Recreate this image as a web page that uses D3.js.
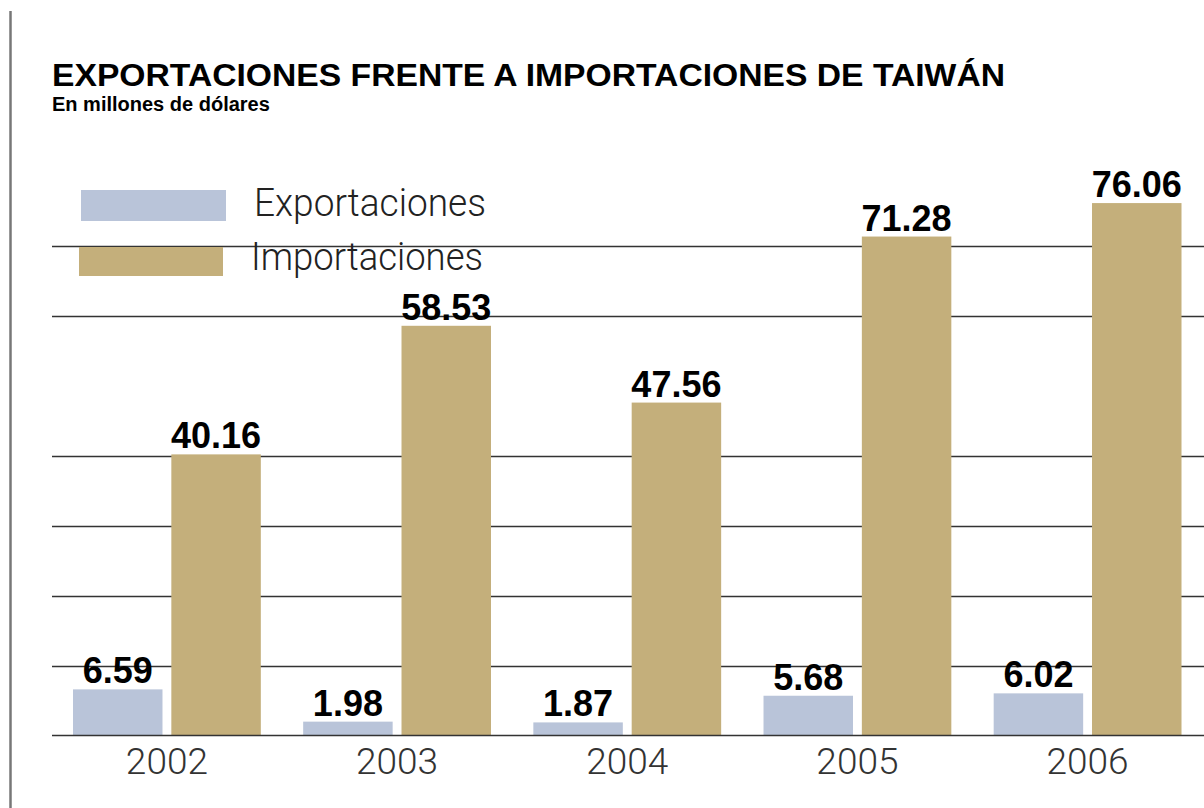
<!DOCTYPE html>
<html lang="es">
<head>
    <meta charset="UTF-8">
    <title>Exportaciones frente a importaciones de Taiwán</title>
    <style>
        html, body { margin: 0; padding: 0; background: #fff; }
        svg { display: block; }
    </style>
</head>
<body>
    <svg id="chart"></svg>
<script src="https://d3js.org/d3.v7.min.js"></script>
<script>
    const years = ["2002", "2003", "2004", "2005", "2006"];
    const series = ["Exportaciones", "Importaciones"];
    const exportaciones = [6.59, 1.98, 1.87, 5.68, 6.02];
    const importaciones = [40.16, 58.53, 47.56, 71.28, 76.06];
    const gridValues = [10, 20, 30, 40, 60, 70];
    const colors = ["#b9c4d9", "#c4af7b"];

    const width = 1204;
    const height = 808;

    const svg = d3.select("#chart")
        .attr("width", width)
        .attr("height", height);

    // left rule
    svg.append("line")
        .attr("x1", 10.5).attr("x2", 10.5)
        .attr("y1", 11).attr("y2", height)
        .attr("stroke", "#777")
        .attr("stroke-width", 2.5);

    // title
    svg.append("text")
        .attr("x", 52)
        .attr("y", 86)
        .attr("font-family", "Liberation Sans, Arial, sans-serif")
        .attr("font-weight", "bold")
        .attr("font-size", 32)
        .attr("textLength", 953)
        .attr("lengthAdjust", "spacingAndGlyphs")
        .attr("fill", "#000")
        .text("EXPORTACIONES FRENTE A IMPORTACIONES DE TAIWÁN");

    svg.append("text")
        .attr("x", 52)
        .attr("y", 111)
        .attr("font-family", "Liberation Sans, Arial, sans-serif")
        .attr("font-weight", "bold")
        .attr("font-size", 20)
        .attr("fill", "#000")
        .text("En millones de dólares");

    const y = d3.scaleLinear()
        .domain([0, 80])
        .range([735.5, 175.5]);

    const x0 = d3.scaleBand()
        .domain(years)
        .range([73, 1181.5])
        .paddingInner(0.184)
        .paddingOuter(0);

    const x1 = d3.scaleBand()
        .domain(series)
        .range([0, x0.bandwidth()])
        .paddingInner(0.09)
        .paddingOuter(0);

    // gridlines
    svg.append("g")
        .selectAll("line")
        .data(gridValues)
        .join("line")
        .attr("x1", 52)
        .attr("x2", width)
        .attr("y1", d => Math.round(y(d)) + 0.5)
        .attr("y2", d => Math.round(y(d)) + 0.5)
        .attr("stroke", "#333")
        .attr("stroke-width", 1.6);

    const data = years.map((yr, i) => ({
        year: yr,
        values: [
            { key: series[0], value: exportaciones[i] },
            { key: series[1], value: importaciones[i] }
        ]
    }));

    const groups = svg.append("g")
        .selectAll("g")
        .data(data)
        .join("g")
        .attr("transform", d => `translate(${x0(d.year)},0)`);

    groups.selectAll("rect")
        .data(d => d.values)
        .join("rect")
        .attr("x", d => x1(d.key))
        .attr("y", d => y(d.value))
        .attr("width", x1.bandwidth())
        .attr("height", d => y(0) - y(d.value))
        .attr("fill", (d, i) => colors[i]);

    groups.selectAll("text.val")
        .data(d => d.values)
        .join("text")
        .attr("class", "val")
        .attr("x", d => x1(d.key) + x1.bandwidth() / 2)
        .attr("y", d => y(d.value) - 6)
        .attr("text-anchor", "middle")
        .attr("font-family", "Liberation Sans, Arial, sans-serif")
        .attr("font-weight", "bold")
        .attr("font-size", 36)
        .attr("fill", "#000")
        .text(d => d.value.toFixed(2));

    // baseline
    svg.append("line")
        .attr("x1", 52)
        .attr("x2", width)
        .attr("y1", y(0))
        .attr("y2", y(0))
        .attr("stroke", "#333")
        .attr("stroke-width", 1.6);

    // x axis labels
    const xAxis = d3.axisBottom(x0).tickSize(0).tickPadding(0);
    const gx = svg.append("g")
        .attr("transform", `translate(0,${y(0)})`)
        .call(xAxis);
    gx.select(".domain").remove();
    gx.selectAll("text")
        .attr("dy", null)
        .attr("y", 38)
        .attr("font-family", "Roboto, Lato, sans-serif")
        .attr("font-weight", 300)
        .attr("font-size", 37)
        .attr("fill", "#333");

    // legend
    const legend = svg.append("g");
    const legendRows = [
        { label: series[0], sx: 81, sy: 190, sw: 145, sh: 31, ty: 216, tx: 254 },
        { label: series[1], sx: 79, sy: 247, sw: 144, sh: 29, ty: 270, tx: 251 }
    ];
    legend.selectAll("rect")
        .data(legendRows)
        .join("rect")
        .attr("x", d => d.sx)
        .attr("y", d => d.sy)
        .attr("width", d => d.sw)
        .attr("height", d => d.sh)
        .attr("fill", (d, i) => colors[i]);
    legend.selectAll("text")
        .data(legendRows)
        .join("text")
        .attr("x", d => d.tx)
        .attr("y", d => d.ty)
        .attr("font-family", "Roboto, Lato, sans-serif")
        .attr("font-weight", 300)
        .attr("font-size", 39)
        .attr("textLength", 232)
        .attr("lengthAdjust", "spacingAndGlyphs")
        .attr("fill", "#222")
        .text(d => d.label);
</script>
</body>
</html>
